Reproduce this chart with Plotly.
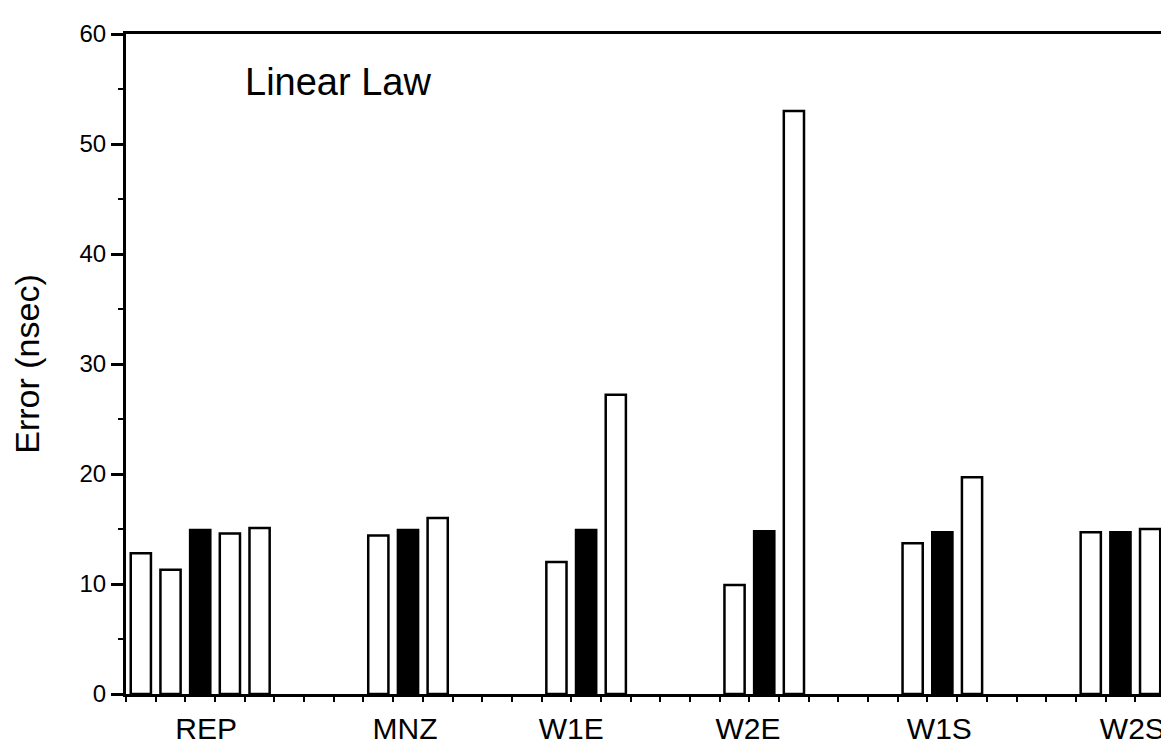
import plotly.graph_objects as go

# ---- data ----
categories = ["REP", "MNZ", "W1E", "W2E", "W1S", "W2S"]
extra_before = [12.8, None, None, None, None, None]
white_before = [11.3, 14.4, 12.0, 9.9, 13.7, 14.7]
black_vals = [14.9, 14.9, 14.9, 14.8, 14.7, 14.7]
white_after = [14.6, 16.0, 27.2, 53.0, 19.7, 15.0]
extra_after = [15.1, None, None, None, None, None]
y_ticks = [0, 10, 20, 30, 40, 50, 60]

# ---- layout constants (slot positions on a numeric x axis) ----
black_slot = [2, 9, 15, 21, 27, 33]
label_pos = [2.2, 8.9, 14.5, 20.45, 26.9, 33.4]
BAR_W = 0.68
FONT = "Liberation Sans, Arial, Helvetica, sans-serif"

fig = go.Figure()

def add_series(vals, offset, fill):
    xs, ys = [], []
    for s, v in zip(black_slot, vals):
        if v is not None:
            xs.append(s + offset)
            ys.append(v)
    fig.add_trace(go.Bar(
        x=xs, y=ys, width=BAR_W,
        marker=dict(color=fill, line=dict(color="black", width=2.5)),
        showlegend=False, hoverinfo="y",
    ))

add_series(extra_before, -2, "white")
add_series(white_before, -1, "white")
add_series(black_vals, 0, "black")
add_series(white_after, 1, "white")
add_series(extra_after, 2, "white")

fig.update_layout(
    width=1169, height=749,
    margin=dict(l=117, r=13, t=20, b=47),
    paper_bgcolor="white", plot_bgcolor="white",
    font=dict(family=FONT, color="black"),
    barmode="overlay",
    annotations=[dict(
        text="Linear Law", xref="paper", yref="paper",
        x=0.113, y=0.927, xanchor="left", yanchor="middle",
        showarrow=False, font=dict(size=38, family=FONT, color="black"),
    )],
)

fig.update_xaxes(
    range=[-0.5, 34.4],
    tickmode="array", tickvals=label_pos, ticktext=categories,
    ticks="outside", ticklen=6, tickcolor="rgba(0,0,0,0)",
    tickfont=dict(size=30, family=FONT),
    showgrid=False, zeroline=False,
    showline=True, linecolor="black", linewidth=2.5, mirror=True,
    minor=dict(tickmode="linear", tick0=-0.5, dtick=1, ticks="outside",
               ticklen=5, tickwidth=2, tickcolor="black", showgrid=False),
)

fig.update_yaxes(
    range=[0, 60],
    tickmode="array", tickvals=y_ticks,
    ticks="outside", ticklen=12, tickwidth=2.5, tickcolor="black",
    tickfont=dict(size=24, family=FONT),
    showgrid=False, zeroline=False,
    showline=True, linecolor="black", linewidth=3, mirror=True,
    minor=dict(tickmode="linear", tick0=5, dtick=10, ticks="outside",
               ticklen=5, tickwidth=2, tickcolor="black", showgrid=False),
    title=dict(text="Error (nsec)", font=dict(size=34, family=FONT), standoff=36),
)

fig.write_html("out.html")
